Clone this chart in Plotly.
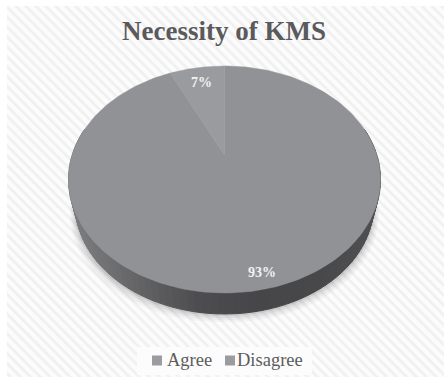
import numpy as np
import plotly.graph_objects as go

# Survey result
categories = ["Agree", "Disagree"]
shares = [93, 7]
slice_colors = ["#919296", "#9a9b9f"]
title_text = "Necessity of KMS"

W, H = 444, 377

# Perspective disc: centre, half-width scale, half-height scale, foreshortening
CX, CY = 224.5, 155.0
SX, SY = 152.3, 108.2
K = 0.2157
DEPTH = 21.0
BASE_SCALE = 0.955


def rim(theta, scale=1.0, drop=0.0):
    """Project clockwise-from-north angles onto the tilted disc, in pixels."""
    w = 1 + K * np.cos(theta)
    x = CX + scale * SX * np.sin(theta) / w
    y = CY - scale * SY * np.cos(theta) / w + drop
    return x, y


def base_rim(theta):
    bottom_offset = DEPTH + (1 - BASE_SCALE) * SY / (1 - K)
    return rim(theta, BASE_SCALE, bottom_offset)


def wall_color(x):
    xs = [69, 100, 150, 200, 260, 320, 381]
    rs = [124, 114, 94, 76, 70, 72, 80]
    v = float(np.interp(x, xs, rs))
    return f"rgb({v:.1f},{v:.1f},{v + 2:.1f})"


fig = go.Figure()

# Hatched backdrop
fig.add_trace(go.Scatter(
    x=[7, W, W, 7, 7], y=[6, 6, H, H, 6], mode="lines", fill="toself",
    line=dict(width=0), hoverinfo="skip", showlegend=False,
    fillcolor="#fbfbfb",
    fillpattern=dict(shape="\\", size=7, solidity=0.4,
                     fgcolor="#f0f0f0", bgcolor="#fcfcfc", fillmode="replace"),
))

# Soft drop shadow under the disc
ring = np.linspace(np.pi * 0.42, np.pi * 1.58, 160)
for grow, alpha in [(8, 0.04), (6, 0.05), (4, 0.07), (2, 0.1)]:
    bx, by = base_rim(ring)
    fig.add_trace(go.Scatter(
        x=bx + np.sign(bx - CX) * grow * 0.7, y=by + grow, mode="lines",
        fill="toself", fillcolor=f"rgba(60,60,60,{alpha})",
        line=dict(width=0), hoverinfo="skip", showlegend=False,
    ))

# Side wall, shaded band by band
edges = np.linspace(np.pi * 0.42, np.pi * 1.58, 91)
for a, b in zip(edges[:-1], edges[1:]):
    t = np.linspace(a, b, 4)
    tx, ty = rim(t)
    bx, by = base_rim(t)
    xs = np.r_[tx, bx[::-1], tx[0]]
    ys = np.r_[ty, by[::-1], ty[0]]
    c = wall_color(tx.mean())
    fig.add_trace(go.Scatter(
        x=xs, y=ys, mode="lines", fill="toself", fillcolor=c,
        line=dict(width=1, color=c), hoverinfo="skip", showlegend=False,
    ))

# Top surface slices, clockwise from twelve o'clock
total = sum(shares)
start = 0.0
mids = []
for share, color, name in zip(shares, slice_colors, categories):
    end = start + share / total * 2 * np.pi
    t = np.linspace(start, end, 240)
    rx, ry = rim(t)
    fig.add_trace(go.Scatter(
        x=np.r_[CX, rx, CX], y=np.r_[CY, ry, CY], mode="lines", fill="toself",
        fillcolor=color, line=dict(width=0.5, color=color), name=name,
        hoverinfo="name", showlegend=False,
    ))
    mids.append((start + end) / 2)
    start = end

# Percentage labels inside each slice
label_radius = [0.88, 0.83]
for share, mid, lr in zip(shares, mids, label_radius):
    w = 1 + K * np.cos(mid)
    fig.add_annotation(
        x=CX + lr * SX * np.sin(mid) / w, y=CY - lr * SY * np.cos(mid) / w,
        text=f"<b>{share}%</b>", showarrow=False,
        font=dict(family="Liberation Serif, Times New Roman, serif", size=14,
                  color="#f2f2f2"),
    )

# Legend strip
fig.add_trace(go.Scatter(
    x=[137, 312, 312, 137, 137], y=[347, 347, 375, 375, 347], mode="lines",
    fill="toself", fillcolor="#fcfcfc", line=dict(width=0),
    hoverinfo="skip", showlegend=False,
))
legend_marks = [157, 230]
legend_text = [165, 235]
for name, mx, tx in zip(categories, legend_marks, legend_text):
    fig.add_trace(go.Scatter(
        x=[mx], y=[360.5], mode="markers", name=name, showlegend=False,
        marker=dict(symbol="square", size=10, color="#9b9c9f"),
        hoverinfo="name",
    ))
    fig.add_annotation(
        x=tx, y=359.5, text=name, showarrow=False, xanchor="left",
        font=dict(family="Liberation Serif, Times New Roman, serif", size=18.5,
                  color="#5c5c5c"),
    )

fig.add_annotation(
    x=224, y=31, text=f"<b>{title_text}</b>", showarrow=False,
    font=dict(family="Liberation Serif, Times New Roman, serif", size=27,
              color="#5a5a5c"),
)

fig.update_layout(
    width=W, height=H, margin=dict(l=0, r=0, t=0, b=0),
    paper_bgcolor="white", plot_bgcolor="white", showlegend=False,
    xaxis=dict(range=[0, W], visible=False, fixedrange=True),
    yaxis=dict(range=[H, 0], visible=False, fixedrange=True),
)
fig.write_html("out.html", config=dict(displayModeBar=False))
